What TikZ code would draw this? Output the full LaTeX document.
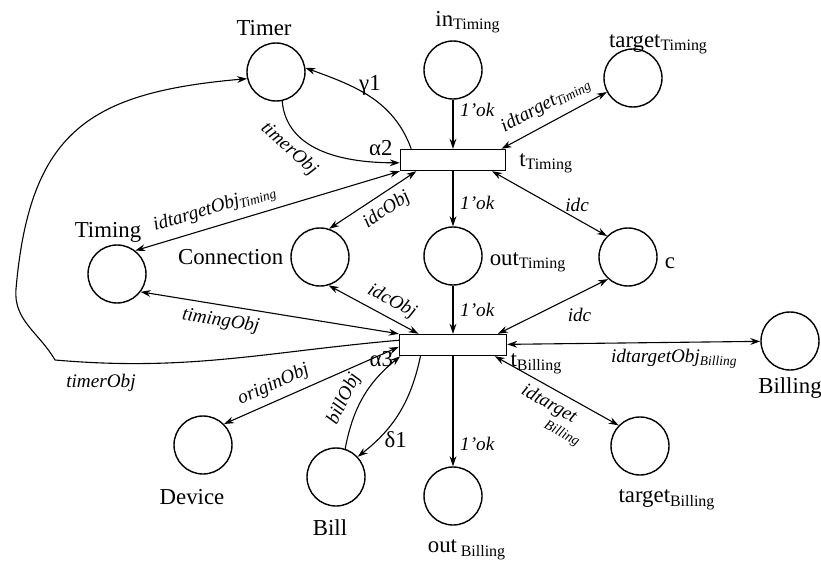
\documentclass[tikz,border=0pt]{standalone}
\usepackage{fontspec}
\setmainfont{Liberation Serif}
\usepackage{tikz}
\usetikzlibrary{arrows.meta}

\begin{document}
\begin{tikzpicture}[
  x=0.5pt, y=0.5pt,
  every node/.style={font=\fontsize{11.4}{13}\selectfont},
  place/.style={
    draw, circle, line width=0.7pt,
    minimum size=29pt, inner sep=0pt
  },
  trans/.style={
    draw, rectangle, line width=0.7pt,
    minimum width=52.5pt, minimum height=10.5pt, inner sep=0pt
  },
  flow/.style={-{Stealth[length=5pt, width=3.4pt]}, line width=0.55pt},
  biflow/.style={{Stealth[length=5pt, width=3.4pt]}-{Stealth[length=5pt, width=3.4pt]}, line width=0.55pt},
  inscr/.style={font=\fontsize{9.6}{11}\selectfont\itshape}
]
\useasboundingbox (0,0) rectangle (821,564);

% Places and transitions
\node[place, label={[xshift=-6pt]above:Timer}] (timer) at (276,492) {};
\node[place, label={[xshift=7.5pt]above:in\textsubscript{Timing}}] (inT) at (453,494) {};
\node[place, label={[xshift=12.75pt, yshift=-6.3pt]above:target\textsubscript{Timing}}] (tgtT) at (633,486) {};
\node[trans, label={[xshift=3pt, yshift=-1.7pt]right:t\textsubscript{Timing}}] (tT) at (453,404) {};
\node[place, label={[xshift=-4.5pt, yshift=-2.5pt]above:Timing}] (timing) at (117,290) {};
\node[place, label=left:Connection] (conn) at (320,307) {};
\node[place, label={[yshift=-3pt]right:out\textsubscript{Timing}}] (outT) at (453,308) {};
\node[place, label={[yshift=-3pt]right:c}] (c) at (628,307) {};
\node[trans, minimum width=53.5pt,
  label={[anchor=north west, inner sep=0pt, xshift=1.5pt, yshift=1pt]-11.1:t\textsubscript{Billing}}] (tB) at (453,219) {};
\node[place, label=below:Billing] (billing) at (790,223) {};
\node[place, label={[xshift=-5.5pt, yshift=-4pt]below:Device}] (device) at (203,119) {};
\node[place, label={[xshift=-3pt, yshift=-3pt]below:Bill}] (bill) at (336,87) {};
\node[place, label={[xshift=7pt, yshift=-3.5pt]below:out\,\textsubscript{Billing}}] (outB) at (453,68) {};
\node[place, label={[xshift=13.5pt, yshift=-3.5pt]below:target\textsubscript{Billing}}] (tgtB) at (640,118) {};

% bends of the long timerObj arc
\coordinate (lc1) at (55,204);
\coordinate (lc2) at (16,275);

% Arcs around t_Timing
\draw[flow] (timer.-78) to[out=-85, in=180]
  node[pos=.3, sloped, below, inscr] {timerObj}
  node[pos=1, above left] {α2} (tT.183);
\draw[flow] (tT.165) to[out=110, in=-20] node[midway, above, yshift=-3pt] {γ1} (timer.8);
\draw[flow] (inT) -- node[pos=.2, right, inscr] {1'ok} (tT);
\draw[biflow] (tgtT) -- node[midway, sloped, above, inscr] {idtarget\textsubscript{Timing}} (tT.13);
\draw[biflow] (timing.52) -- node[pos=.32, sloped, above, inscr] {idtargetObj\textsubscript{Timing}} (tT.south west);
\draw[biflow] (conn.72) -- node[pos=.56, sloped, below, inscr] {idcObj} (tT.197);
\draw[flow] (tT) -- node[pos=.57, right, inscr] {1'ok} (outT);
\draw[biflow] (tT.-16) -- node[pos=.74, above, inscr] {idc} (c.135);

% Arcs around t_Billing
\draw[flow] (outT) -- node[midway, right, inscr] {1'ok} (tB);
\draw[biflow] (c.228) -- node[pos=.26, below, yshift=-4pt, inscr] {idc} (tB.14);
\draw[biflow] (conn.-73) -- node[pos=.62, sloped, above, inscr] {idcObj} (tB.162);
\draw[biflow] (timing.-37) -- node[pos=.32, sloped, below, inscr] {timingObj} (tB.north west);
\draw[biflow] (tB) -- node[pos=.66, below, inscr] {idtargetObj\textsubscript{Billing}} (billing);
\draw[biflow] (tB.-15) -- node[pos=.55, sloped, below, inscr, align=left]
  {idtarget\\[-2pt]\hspace*{1.9em}{\fontsize{7}{8}\selectfont Billing}} (tgtB.136);
\draw[biflow] (device.45) -- node[pos=.32, sloped, above, inscr] {originObj} (tB.182);
\draw[flow] (bill.72) to[bend left=20]
  node[pos=.4, sloped, above, inscr] {billObj}
  node[pos=1, left, yshift=-1.5pt] {α3} (tB.192);
\draw[flow] (tB.199) to[bend left=20] node[pos=.8, right] {δ1} (bill.43);
\draw[flow] (tB) -- node[pos=.8, right, inscr] {1'ok} (outB);

% long way back to Timer
\draw[flow] (tB.175) to[out=185, in=-5] node[pos=.88, below, yshift=-2pt, inscr] {timerObj} (lc1)
  to[out=120, in=-95] (lc2)
  to[out=85, in=185, looseness=1.3] (timer.193);
\end{tikzpicture}
\end{document}
